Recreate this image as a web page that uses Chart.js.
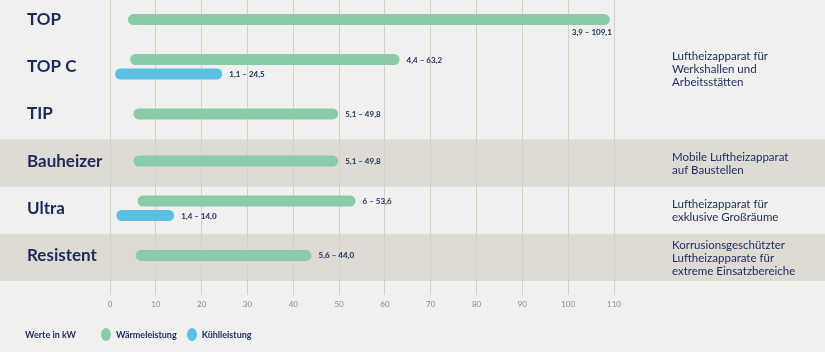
<!DOCTYPE html>
<html lang="de">
<head>
<meta charset="utf-8">
<script src="https://cdn.jsdelivr.net/npm/chart.js@4.4.0/dist/chart.umd.min.js"></script>
<style>
  html, body { margin: 0; padding: 0; background: #f0f0ee; }
  #wrap { position: relative; width: 825px; height: 352px; overflow: hidden; }
  #chart { position: absolute; left: 0; top: -4px; }
  #legend { position: absolute; left: 25px; top: 328px; height: 13px; display: flex; align-items: center;
            font: 700 9px Lato, sans-serif; color: #1b2a5c; }
  #legend .dot { display: inline-block; width: 10px; height: 13px; border-radius: 50%; margin-right: 5px; }
</style>
</head>
<body>
<div id="wrap">
  <canvas id="chart" width="825" height="356"></canvas>
  <div id="legend"></div>
</div>
<script>
// models (rows) and their ranges in kW
const models = ['TOP', 'TOP C', 'TIP', 'Bauheizer', 'Ultra', 'Resistent'];
const heatMin = [3.9, 4.4, 5.1, 5.1, 6, 5.6];
const heatMax = [109.1, 63.2, 49.8, 49.8, 53.6, 44.0];
const coolMin = [null, 1.1, null, null, 1.4, null];
const coolMax = [null, 24.5, null, null, 14.0, null];
const heatText = ['3,9 – 109,1', '4,4 – 63,2', '5,1 – 49,8', '5,1 – 49,8', '6 – 53,6', '5,6 – 44,0'];
const coolText = ['', '1,1 – 24,5', '', '', '1,4 – 14,0', ''];
const xTicks = [0, 10, 20, 30, 40, 50, 60, 70, 80, 90, 100, 110];
const shaded = [false, false, false, true, false, true];
const notes = [
    [],
    ['Luftheizapparat für', 'Werkshallen und', 'Arbeitsstätten'],
    [],
    ['Mobile Luftheizapparat', 'auf Baustellen'],
    ['Luftheizapparat für', 'exklusive Großräume'],
    ['Korrusionsgeschützter', 'Luftheizapparate für', 'extreme Einsatzbereiche']
];
const seriesNames = ['Wärmeleistung', 'Kühlleistung'];
const unitText = 'Werte in kW';

const navy = '#1b2a5c';
const green = '#8bcba9';
const blue = '#5bbee3';
const band = '#dedad4';
const grid = '#d3d1cc';

// bands, value labels and the descriptions on the right
const rowDecor = {
    id: 'rowDecor',
    beforeDraw(chart) {
        const { ctx, chartArea, scales: { y } } = chart;
        const step = chartArea.height / models.length;
        ctx.save();
        ctx.fillStyle = band;
        shaded.forEach((s, i) => {
            if (!s) return;
            const c = y.getPixelForValue(i);
            ctx.fillRect(0, c - step / 2 + 2, chart.width, step);
        });
        ctx.restore();
    },
    afterDatasetsDraw(chart) {
        const { ctx, chartArea, scales: { y } } = chart;
        ctx.save();
        ctx.fillStyle = navy;
        ctx.font = '700 8px Lato, sans-serif';
        ctx.textBaseline = 'middle';
        [heatText, coolText].forEach((texts, d) => {
            const meta = chart.getDatasetMeta(d);
            meta.data.forEach((el, i) => {
                if (!texts[i]) return;
                if (d === 0 && heatMax[i] > 100) {
                    ctx.textAlign = 'right';
                    ctx.fillText(texts[i], el.x + 2, el.y + 13);
                } else {
                    ctx.textAlign = 'left';
                    ctx.fillText(texts[i], el.x + 7, el.y + 0.5);
                }
            });
        });
        ctx.font = '400 11.5px Lato, sans-serif';
        ctx.textAlign = 'left';
        notes.forEach((lines, i) => {
            if (!lines.length) return;
            const c = y.getPixelForValue(i) + 3;
            lines.forEach((t, k) => {
                ctx.fillText(t, chartArea.right + 58, c + (k - (lines.length - 1) / 2) * 13);
            });
        });
        ctx.restore();
    }
};

const ctx = document.getElementById('chart');
const chart = new Chart(ctx, {
    type: 'bar',
    data: {
        labels: models,
        datasets: [{
            label: seriesNames[0],
            data: heatMin.map((v, i) => [v, heatMax[i]]),
            backgroundColor: green
        }, {
            label: seriesNames[1],
            data: coolMin.map((v, i) => v === null ? null : [v, coolMax[i]]),
            backgroundColor: blue
        }]
    },
    options: {
        indexAxis: 'y',
        responsive: false,
        animation: false,
        skipNull: true,
        categoryPercentage: 0.615,
        barPercentage: 0.76,
        maxBarThickness: 11,
        borderRadius: 6,
        borderSkipped: false,
        layout: { padding: { left: 27, right: 211, top: 0, bottom: 40 } },
        plugins: {
            legend: { display: false },
            tooltip: { enabled: false }
        },
        scales: {
            x: {
                type: 'linear',
                min: 0,
                max: 110,
                afterBuildTicks: s => { s.ticks = xTicks.map(v => ({ value: v })); },
                afterFit: s => { s.height = 33; s.paddingLeft = 0; s.paddingRight = 0; },
                grid: { color: grid, tickLength: 16, tickColor: grid },
                border: { display: false },
                ticks: { color: '#8a8a8a', font: { family: 'Lato', size: 8 }, padding: 5 }
            },
            y: {
                afterFit: s => { s.width = 83; s.paddingTop = 0; s.paddingBottom = 0; },
                grid: { display: false },
                border: { display: false },
                ticks: { color: navy, font: { family: 'Lato', size: 17, weight: '700' }, crossAlign: 'far', padding: 0 }
            }
        }
    },
    plugins: [rowDecor]
});

// legend under the chart
const legend = document.getElementById('legend');
const unit = document.createElement('span');
unit.textContent = unitText;
unit.style.marginRight = '25px';
legend.appendChild(unit);
[green, blue].forEach((c, i) => {
    const dot = document.createElement('span');
    dot.className = 'dot';
    dot.style.background = c;
    const txt = document.createElement('span');
    txt.textContent = seriesNames[i];
    txt.style.marginRight = i === 0 ? '10px' : '0';
    legend.appendChild(dot);
    legend.appendChild(txt);
});
</script>
</body>
</html>
